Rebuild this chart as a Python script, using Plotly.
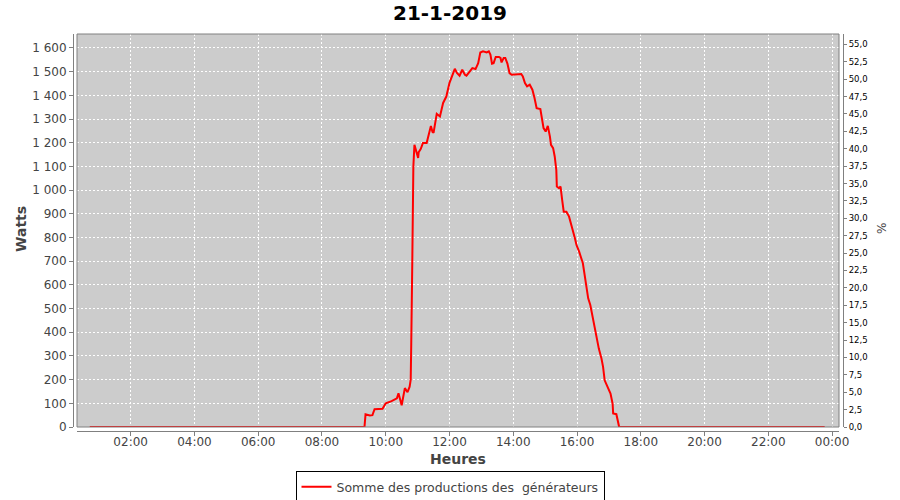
import plotly.graph_objects as go

# ---- data ----
title_text = "21-1-2019"
series_name = "Somme des productions des \u00a0générateurs"
day = "2019-01-21"

times = ["00:43", "03:00", "06:00", "08:30", "09:20", "09:22", "09:30", "09:35", "09:39", "09:54",
         "10:00", "10:11", "10:21", "10:24", "10:30", "10:36", "10:41", "10:45", "10:47", "10:48",
         "10:49", "10:50", "10:52", "10:54", "11:01", "11:02", "11:06", "11:10", "11:17", "11:19",
         "11:25", "11:28", "11:30", "11:36", "11:42", "11:48", "11:54", "12:00", "12:07", "12:10",
         "12:14", "12:19", "12:24", "12:29", "12:32", "12:38", "12:43", "12:49", "12:54", "12:58",
         "13:03", "13:10", "13:14", "13:17", "13:20", "13:23", "13:27", "13:33", "13:36", "13:38",
         "13:42", "13:45", "13:49", "13:53", "13:57", "14:15", "14:18", "14:22", "14:26", "14:31",
         "14:36", "14:40", "14:44", "14:51", "14:55", "14:57", "15:01", "15:05", "15:09", "15:11",
         "15:15", "15:18", "15:21", "15:22", "15:26", "15:29", "15:32", "15:35", "15:40", "15:45",
         "15:50", "15:53", "15:56", "15:59", "16:04", "16:11", "16:16", "16:21", "16:25", "16:30",
         "16:35", "16:41", "16:46", "16:49", "16:52", "16:58", "17:03", "17:07", "17:08", "17:14",
         "17:16", "17:19", "17:21", "20:00", "23:46"]
watts = [0, 0, 0, 2, 0, 54, 49, 50, 75, 77,
         100, 109, 121, 142, 92, 164, 147, 170, 200, 350,
         460, 700, 1100, 1191, 1136, 1160, 1174, 1199, 1199, 1216,
         1271, 1246, 1242, 1322, 1311, 1368, 1395, 1453, 1501, 1512,
         1495, 1483, 1508, 1487, 1483, 1501, 1515, 1511, 1536, 1581,
         1586, 1581, 1586, 1572, 1534, 1536, 1562, 1562, 1558, 1539,
         1558, 1558, 1534, 1494, 1487, 1490, 1480, 1452, 1438, 1445,
         1424, 1389, 1346, 1342, 1297, 1262, 1247, 1271, 1226, 1191,
         1177, 1142, 1085, 1015, 1008, 1015, 959, 909, 909, 888,
         846, 825, 797, 768, 740, 691, 606, 543, 515, 458,
         395, 331, 289, 254, 197, 169, 141, 98, 57, 54,
         31, 3, 0, 0, 0]

watt_ticks = list(range(0, 1700, 100))
pct_ticks = [i * 2.5 for i in range(23)]
watt_max = 1659
pct_max = 56.5

x_vals = [f"{day} {t}" for t in times]

fig = go.Figure()
fig.add_trace(go.Scatter(x=x_vals, y=watts, mode="lines", name=series_name,
                         line=dict(color="#ff0000", width=2), yaxis="y"))
# invisible trace for the secondary axis
fig.add_trace(go.Scatter(x=[x_vals[0]], y=[0], mode="lines", yaxis="y2",
                         showlegend=False, hoverinfo="skip", line=dict(width=0)))

W, H = 900, 500
ml, mr, mt, mb = 40, 40, 34, 60
pw, ph = W - ml - mr, H - mt - mb
def px_x(x):
    return (x - ml) / pw
def px_y(y):
    return (H - mb - y) / ph

axis_col = "#808080"
tick_font = dict(family="DejaVu Sans", size=12, color="#444444")

fig.update_layout(
    width=W, height=H,
    margin=dict(l=ml, r=mr, t=mt, b=mb, autoexpand=False),
    paper_bgcolor="white",
    plot_bgcolor="#cccccc",
    separators=", ",
    font=dict(family="DejaVu Sans", color="#444444"),
    title=dict(text=f"<b>{title_text}</b>", x=0.5, xref="container", xanchor="center",
               y=1 - 13 / H, yref="container", yanchor="middle",
               font=dict(family="DejaVu Sans", size=20, color="black")),
    xaxis=dict(
        type="date",
        domain=[px_x(77), px_x(839)],
        range=[f"{day} 00:19", "2019-01-22 00:13"],
        anchor="free", position=px_y(431),
        tick0=f"{day} 00:00", dtick=7200000, tickformat="%H:%M",
        showline=True, linecolor=axis_col, linewidth=1,
        ticks="outside", ticklen=4, tickcolor=axis_col,
        tickfont=tick_font, automargin=False, ticklabelstandoff=-4,
        showgrid=True, gridcolor="white", gridwidth=1, griddash="2px,2px",
        zeroline=False,
    ),
    yaxis=dict(
        domain=[px_y(427), px_y(34)],
        range=[0, watt_max],
        anchor="free", position=px_x(73),
        tickvals=watt_ticks, tickformat=",d",
        showline=True, linecolor=axis_col, linewidth=1,
        ticks="outside", ticklen=4, tickcolor=axis_col,
        tickfont=tick_font, automargin=False,
        showgrid=True, gridcolor="white", gridwidth=1, griddash="2px,2px",
        zeroline=False,
    ),
    yaxis2=dict(
        overlaying="y", side="right",
        range=[0, pct_max],
        anchor="free", position=px_x(843),
        tickvals=pct_ticks, tickformat=".1f",
        showline=True, linecolor=axis_col, linewidth=1,
        ticks="outside", ticklen=3, tickcolor=axis_col,
        tickfont=dict(family="DejaVu Sans", size=8.5, color="black"), automargin=False,
        showgrid=False, zeroline=False,
    ),
    legend=dict(
        orientation="h", x=0.5, xanchor="center", xref="container",
        y=px_y(471), yanchor="top",
        bordercolor="black", borderwidth=1, bgcolor="white",
        font=dict(family="DejaVu Sans", size=12.5, color="#444444"),
        itemwidth=30,
    ),
    showlegend=True,
)

# plot outline
fig.add_shape(type="rect", xref="x domain", yref="y domain", x0=0, x1=1, y0=0, y1=1,
              line=dict(color=axis_col, width=1), fillcolor="rgba(0,0,0,0)", layer="above")

# axis titles
fig.add_annotation(text="<b>Heures</b>", xref="paper", yref="paper",
                   x=px_x(458), y=px_y(459), showarrow=False,
                   xanchor="center", yanchor="middle",
                   font=dict(family="DejaVu Sans", size=14, color="#444444"))
fig.add_annotation(text="<b>Watts</b>", xref="paper", yref="paper",
                   x=px_x(21), y=px_y(229), showarrow=False, textangle=-90,
                   xanchor="center", yanchor="middle",
                   font=dict(family="DejaVu Sans", size=14, color="#444444"))
fig.add_annotation(text="%", xref="paper", yref="paper",
                   x=px_x(882), y=px_y(229), showarrow=False, textangle=-90,
                   xanchor="center", yanchor="middle",
                   font=dict(family="DejaVu Sans", size=12, color="#444444"))

fig.write_html("out.html", config={"displayModeBar": False},
               post_script="document.body.style.margin='0';")
